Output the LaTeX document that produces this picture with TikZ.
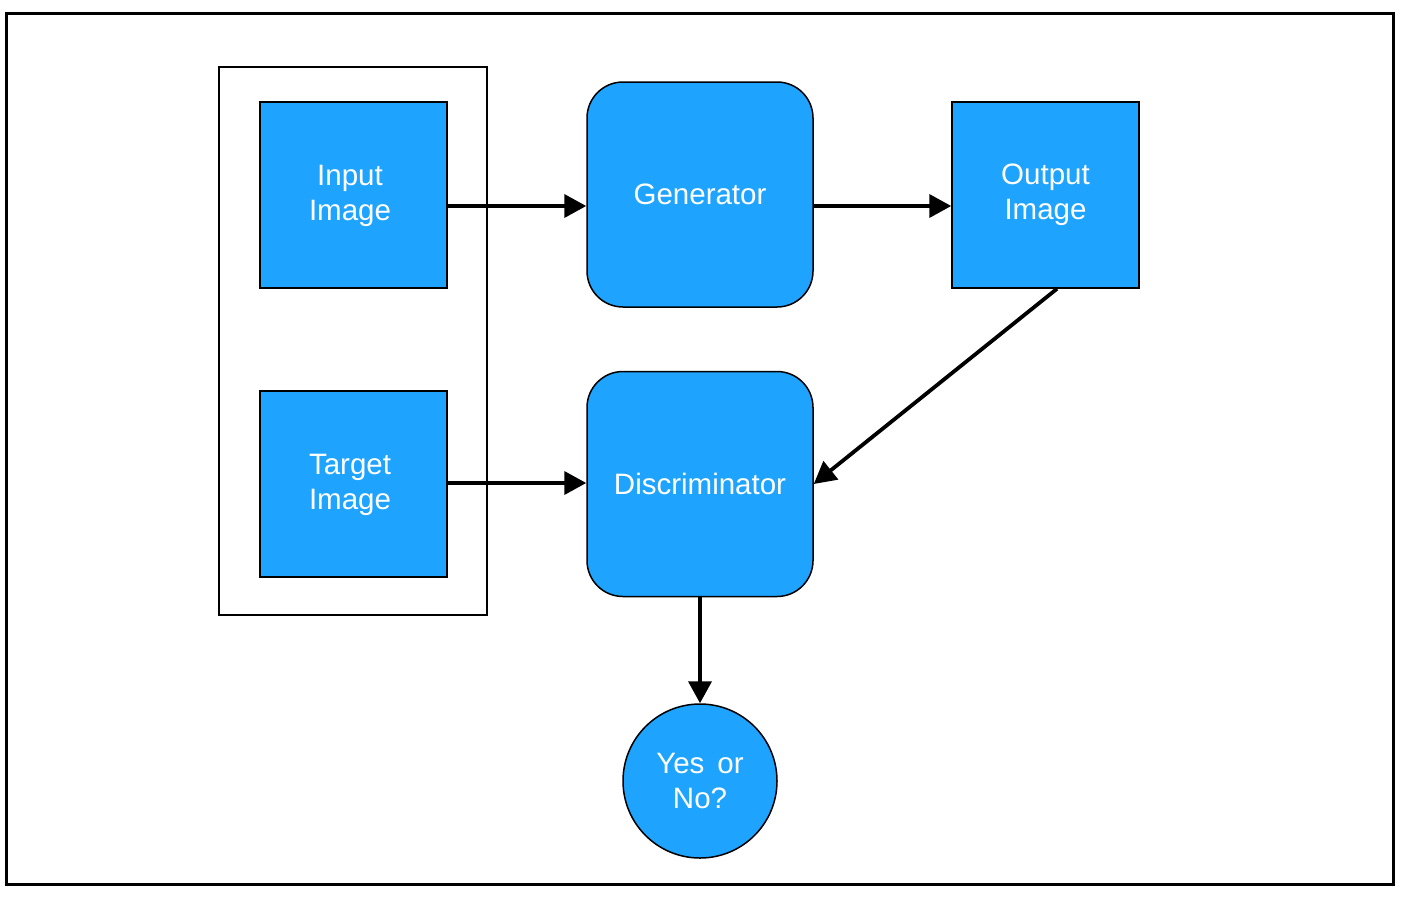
\documentclass[tikz,border=0pt]{standalone}
\usepackage{fontspec}
\setmainfont{Liberation Sans}
\usetikzlibrary{arrows.meta}
\definecolor{fillblue}{RGB}{30,164,255}
\begin{document}
\begin{tikzpicture}[x=1pt,y=-1pt,
  sq/.style={draw=black,line width=1.5pt,fill=fillblue,minimum width=187pt,minimum height=186pt,inner sep=0pt,
    text=white,font=\fontsize{29.5}{35}\selectfont,align=center},
  rbox/.style={draw=black,line width=1.5pt,fill=fillblue,rounded corners=36pt,minimum width=226pt,minimum height=225pt,inner sep=0pt,
    text=white,font=\fontsize{29.5}{35}\selectfont,align=center},
  conn/.style={line width=3.8pt,-{Triangle[length=22pt,width=23pt]},shorten >=0pt}]
\useasboundingbox (0,0) rectangle (1404,914);
\node[draw=black,line width=3pt,minimum width=1386.5pt,minimum height=871pt,inner sep=0pt] (frame) at (700,449) {};
\node[draw=black,line width=2pt,minimum width=268pt,minimum height=548pt,inner sep=0pt] (group) at (353,341) {};
\node[sq] (input) at (353.5,195) {};
\node[white,font=\fontsize{29.5}{35}\selectfont,align=center] at (350,196) {Input\\Image};
\node[sq] (target) at (353.5,484) {};
\node[white,font=\fontsize{29.5}{35}\selectfont,align=center] at (350,485) {Target\\Image};
\node[sq] (output) at (1045.5,195) {Output\\Image};
\node[rbox] (gen) at (700,194.5) {Generator};
\node[rbox] (disc) at (700,484) {Discriminator};
\node[circle,draw=black,line width=1.5pt,fill=fillblue,minimum size=154pt,inner sep=0pt,
  text=white,font=\fontsize{29.5}{35}\selectfont,align=center] (yn) at (700,781) {Yes\, or\\No?};
\draw[conn] (input.east |- 0,206) -- (gen.west |- 0,206);
\draw[conn] (gen.east |- 0,206) -- (output.west |- 0,206);
\draw[conn] (target.east |- 0,483) -- (disc.west |- 0,483);
\draw[conn] ([xshift=11.5pt]output.south) -- (disc.east);
\draw[conn] (disc.south) -- (yn.north);
\end{tikzpicture}
\end{document}
